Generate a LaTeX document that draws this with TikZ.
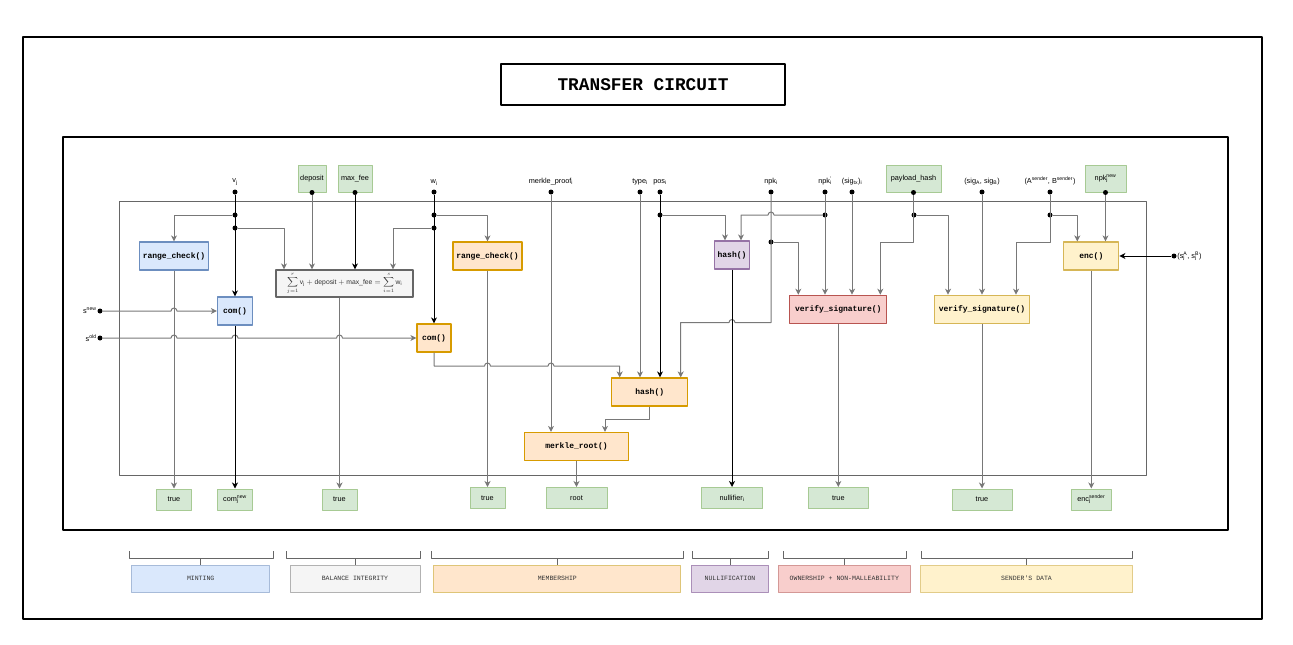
\documentclass[tikz,border=0pt]{standalone}
\usepackage{amsmath}
\usepackage{fontspec}
\setmainfont{Liberation Sans}
\setsansfont{Liberation Sans}
\setmonofont{Liberation Mono}
\usetikzlibrary{arrows.meta}
\usetikzlibrary{calc}
\usetikzlibrary{positioning}

\definecolor{bluefill}{HTML}{DAE8FC}\definecolor{blueline}{HTML}{6C8EBF}
\definecolor{greyfill}{HTML}{F5F5F5}\definecolor{greyline}{HTML}{666666}
\definecolor{orangefill}{HTML}{FFE6CC}\definecolor{orangeline}{HTML}{D79B00}
\definecolor{purplefill}{HTML}{E1D5E7}\definecolor{purpleline}{HTML}{9673A6}
\definecolor{redfill}{HTML}{F8CECC}\definecolor{redline}{HTML}{B85450}
\definecolor{yellowfill}{HTML}{FFF2CC}\definecolor{yellowline}{HTML}{D6B656}
\definecolor{greenfill}{HTML}{D5E8D4}\definecolor{greenline}{HTML}{82B366}
\definecolor{wiregray}{HTML}{787878}

\newcommand\subsup[2]{\rlap{\textsubscript{#1}}\textsuperscript{#2}}
\newcommand\lblsize{\fontsize{7.3}{8.5}\selectfont}

\tikzset{
  fnbox/.style={draw, line width=1.2pt, font=\ttfamily\bfseries\fontsize{8}{9}\selectfont,
    minimum height=28pt, inner sep=0pt},
  fnblue/.style={fnbox, draw=blueline, fill=bluefill},
  fnorange/.style={fnbox, draw=orangeline, fill=orangefill},
  fnpurple/.style={fnbox, draw=purpleline, fill=purplefill},
  fnred/.style={fnbox, draw=redline, fill=redfill},
  fnyellow/.style={fnbox, draw=yellowline, fill=yellowfill},
  sumbox/.style={draw=greyline, fill=greyfill, line width=1.2pt, text=black!80,
    minimum height=27pt, minimum width=137pt, inner sep=0pt, font=\fontsize{6.8}{7.5}\selectfont},
  inbox/.style={draw=greenline!70!white, fill=greenfill, line width=1pt,
    minimum height=27pt, inner sep=0pt, font=\lblsize},
  outbox/.style={draw=greenline!70!white, fill=greenfill, line width=1pt,
    minimum height=21pt, inner sep=0pt, font=\lblsize},
  lbl/.style={font=\lblsize, inner sep=0.5pt},
  toplbl/.style={lbl, yshift=3.5pt},
  dot/.style={circle, fill=black, inner sep=0pt, minimum size=5pt, label distance=5pt},
  wire/.style={draw=wiregray, line width=1pt, -{Stealth[length=6pt,width=6pt,inset=1.8pt]}},
  bwire/.style={wire, draw=black},
  brk/.style={draw=greyline, line width=1pt},
  catbox/.style={line width=1pt, minimum height=27pt, inner sep=0pt, text=black!80,
    font=\ttfamily\fontsize{6.5}{8}\selectfont},
}

\begin{document}
\begin{tikzpicture}[x=1pt, y=-1pt, line join=round]
  \useasboundingbox (0,0) rectangle (1293,645);
  % frames
  \draw[line width=1.2pt] (23,37) rectangle (1262,619);
  \draw[line width=1.2pt] (63,137) rectangle (1228,530);
  \draw[greyline, line width=1pt] (119,201) rectangle (1146,475);
  \node[draw, line width=2pt, minimum width=284pt, minimum height=41pt,
    font=\ttfamily\bfseries\fontsize{17.8}{20}\selectfont] (title) at (643,84.5) {TRANSFER CIRCUIT};

  % inputs on top
  \node[dot, label={[toplbl]90:v\textsubscript{j}}] (vj) at (235,192) {};
  \node[inbox, minimum width=28pt] (dep) at (312,178.5) {deposit};
  \node[dot] (depd) at (dep.south) {};
  \node[inbox, minimum width=34pt] (mfee) at (355,178.5) {max\_fee};
  \node[dot] (mfeed) at (mfee.south) {};
  \node[dot, label={[toplbl]90:w\textsubscript{i}}] (wi) at (434,192) {};
  \node[dot, label={[toplbl]90:merkle\_proof\textsubscript{i}}] (mp) at (551,192) {};
  \node[dot, label={[toplbl]90:type\textsubscript{i}}] (ty) at (640,192) {};
  \node[dot, label={[toplbl]90:pos\textsubscript{i}}] (pos) at (660,192) {};
  \node[dot, label={[toplbl]90:npk\textsubscript{i}}] (npk) at (771,192) {};
  \node[dot, label={[toplbl]90:npk\rlap{\textsuperscript{\textquotesingle}}\textsubscript{i}}] (npkp) at (825,192) {};
  \node[dot, label={[toplbl]90:(sig\textsubscript{tx})\textsubscript{i}}] (stx) at (852,192) {};
  \node[inbox, minimum width=55pt] (phash) at (913.5,178.5) {payload\_hash};
  \node[dot] (phd) at (phash.south) {};
  \node[dot, label={[toplbl]90:(sig\textsubscript{A}, sig\textsubscript{B})}] (sigab) at (982,192) {};
  \node[dot, label={[toplbl]90:(A\textsuperscript{sender}, B\textsuperscript{sender})}] (absnd) at (1050,192) {};
  \node[inbox, minimum width=41pt] (npknew) at (1105.5,178.5) {npk\subsup{j}{new}};
  \node[dot] (npknewd) at (npknew.south) {};
  \node[dot, label={[lbl]0:(s\subsup{j}{A}, s\subsup{j}{B})}] (sjab) at (1174,256) {};
  \node[dot, label={[lbl]180:s\textsuperscript{new}}] (snew) at (100,311) {};
  \node[dot, label={[lbl]180:s\textsuperscript{old}}] (sold) at (100,338) {};

  % branch points
  \node[dot] (vj1) at (235,215) {};
  \node[dot] (vj2) at (235,228) {};
  \node[dot] (wi1) at (434,215) {};
  \node[dot] (wi2) at (434,228) {};
  \node[dot] (pos1) at (660,215) {};
  \node[dot] (npk1) at (771,242) {};
  \node[dot] (npkp1) at (825,215) {};
  \node[dot] (ph1) at (914,215) {};
  \node[dot] (ab1) at (1050,215) {};
  \coordinate (npkc) at (771,322.5);
  \coordinate (cmturn) at (434,366);

  % circuit blocks
  \node[fnblue, minimum width=69pt] (rcv) at (174,256) {range\_check()};
  \node[fnblue, minimum width=35pt] (comv) at (235,311) {com()};
  \node[sumbox] (sum) at (344.5,283.5)
    {$\displaystyle\sum_{j=1}^{r}\text{v}_{\text{j}}+\text{deposit}+\text{max\_fee}=\sum_{i=1}^{s}\text{w}_{\text{i}}$};
  \node[fnorange, minimum width=69pt] (rcw) at (487.5,256) {range\_check()};
  \node[fnorange, minimum width=34pt] (comw) at (434,338) {com()};
  \node[fnpurple, minimum width=35pt] (hnul) at (732,255) {hash()};
  \node[fnred, minimum width=97pt] (vsig) at (838.3,309.3) {verify\_signature()};
  \node[fnyellow, minimum width=95pt] (vsnd) at (982,309.3) {verify\_signature()};
  \node[fnyellow, minimum width=55pt] (enc) at (1091.3,256) {enc()};
  \node[fnorange, minimum width=76pt] (hcm) at (649.7,392) {hash()};
  \node[fnorange, minimum width=104pt] (mroot) at (576.5,446.5) {merkle\_root()};

  % outputs
  \node[outbox, minimum width=35pt] (o1) at (174,499.5) {true};
  \node[outbox, minimum width=35pt] (o2) at (235,499.5) {com\subsup{j}{new}};
  \node[outbox, minimum width=35pt] (o3) at (339.5,499.5) {true};
  \node[outbox, minimum width=35pt] (o4) at (487.5,498) {true};
  \node[outbox, minimum width=61pt] (o5) at (576.5,498) {root};
  \node[outbox, minimum width=61pt] (o6) at (732,498) {nullifier\textsubscript{i}};
  \node[outbox, minimum width=60pt] (o7) at (838.3,498) {true};
  \node[outbox, minimum width=60pt] (o8) at (982,499.5) {true};
  \node[outbox, minimum width=40pt] (o9) at (1091.3,499.5) {enc\subsup{j}{sender}};

  % wires: minting and balance
  \draw[bwire] (vj) -- (comv);
  \draw[wire] (vj1) -| (rcv);
  \draw[wire] (vj2) -| ([xshift=-60.5pt]sum.north);
  \draw[wire] (depd) -- (depd |- sum.north);
  \draw[bwire] (mfeed) -- (mfeed |- sum.north);
  \draw[bwire] (wi) -- (comw);
  \draw[wire] (wi1) -| (rcw);
  \draw[wire] (wi2) -| ([xshift=48.5pt]sum.north);
  \draw[wire] (snew) -- ($(snew -| rcv)+(-3,0)$) arc[start angle=180, end angle=0, radius=3pt] -- (comv);
  \draw[wire] (sold) -- ($(sold -| rcv)+(-3,0)$) arc[start angle=180, end angle=0, radius=3pt]
    -- ($(sold -| comv)+(-3,0)$) arc[start angle=180, end angle=0, radius=3pt]
    -- ($(sold -| o3)+(-3,0)$) arc[start angle=180, end angle=0, radius=3pt] -- (comw);
  \draw[wire] (rcv) -- (rcv |- o1.north);
  \draw[bwire] (comv) -- (comv |- o2.north);
  \draw[wire] (o3.north |- sum.south) -- (o3);
  \draw[wire] (rcw) -- (rcw |- o4.north);

  % wires: membership
  \draw[wire] (mp) -- (mp |- mroot.north);
  \draw[wire] (ty) -- (ty |- hcm.north);
  \draw[bwire] (pos) -- (pos |- hcm.north);
  \draw[wire] (comw) -- (cmturn) -- ($(cmturn -| rcw)+(-3,0)$) arc[start angle=180, end angle=0, radius=3pt]
    -- ($(cmturn -| mp)+(-3,0)$) arc[start angle=180, end angle=0, radius=3pt]
    -- ([xshift=-30pt]hcm.north |- cmturn) -- ([xshift=-30pt]hcm.north);
  \draw[wire] (npk) -- (npkc) -- ($(npkc -| hnul)+(3,0)$) arc[start angle=0, end angle=180, radius=3pt]
    -- ([xshift=31pt]hcm.north |- npkc) -- ([xshift=31pt]hcm.north);
  \draw[wire] (hcm.south) -- ++(0,13) -| ([xshift=28.5pt]mroot.north);
  \draw[wire] (mroot) -- (mroot |- o5.north);

  % wires: nullification
  \draw[wire] (pos1) -| ([xshift=-7pt]hnul.north);
  \draw[wire] (npkp1) -- ($(npkp1 -| npk)+(3,0)$) arc[start angle=0, end angle=180, radius=3pt]
    -- ([xshift=9pt]hnul.north |- npkp1) -- ([xshift=9pt]hnul.north);
  \draw[bwire] (hnul) -- (hnul |- o6.north);

  % wires: ownership
  \draw[wire] (npk1) -| ([xshift=-40pt]vsig.north);
  \draw[wire] (npkp) -- (npkp |- vsig.north);
  \draw[wire] (stx) -- (stx |- vsig.north);
  \draw[wire] (phd) -- (phd |- npk1) -| ([xshift=42pt]vsig.north);
  \draw[wire] (vsig) -- (vsig |- o7.north);

  % wires: sender's data
  \draw[wire] (ph1) -| ([xshift=-34pt]vsnd.north);
  \draw[wire] (sigab) -- (sigab |- vsnd.north);
  \draw[wire] (absnd) -- (absnd |- npk1) -| ([xshift=34pt]vsnd.north);
  \draw[wire] (ab1) -| ([xshift=-14pt]enc.north);
  \draw[wire] (npknewd) -- (npknewd |- enc.north);
  \draw[bwire] (sjab) -- (enc);
  \draw[wire] (vsnd) -- (vsnd |- o8.north);
  \draw[wire] (enc) -- (enc |- o9.north);

  % categories
  \node[catbox, draw=blueline!60!white, fill=bluefill, minimum width=137.5pt] (catmint) at (200.7,578.5) {MINTING};
  \node[catbox, draw=greyline!50!white, fill=greyfill, minimum width=130pt] (catbal) at (355,578.5) {BALANCE INTEGRITY};
  \node[catbox, draw=yellowline!80!white, fill=orangefill, minimum width=247pt] (catmem) at (557.3,578.5) {MEMBERSHIP};
  \node[catbox, draw=purpleline!80!white, fill=purplefill, minimum width=77pt] (catnul) at (730,578.5) {NULLIFICATION};
  \node[catbox, draw=redline!60!white, fill=redfill, minimum width=132pt] (catown) at (844.3,578.5) {OWNERSHIP + NON-MALLEABILITY};
  \node[catbox, draw=yellowline!70!white, fill=yellowfill, minimum width=212pt] (catsnd) at (1026.5,578.5) {SENDER'S DATA};
  \draw[brk] (129,551) |- (273,558) -- (273,551);
  \draw[brk] (catmint.north) -- ++(0,-7);
  \draw[brk] (286,551) |- (420,558) -- (420,551);
  \draw[brk] (catbal.north) -- ++(0,-7);
  \draw[brk] (431,551) |- (683,558) -- (683,551);
  \draw[brk] (catmem.north) -- ++(0,-7);
  \draw[brk] (692,551) |- (768,558) -- (768,551);
  \draw[brk] (catnul.north) -- ++(0,-7);
  \draw[brk] (783,551) |- (906,558) -- (906,551);
  \draw[brk] (catown.north) -- ++(0,-7);
  \draw[brk] (921,551) |- (1132,558) -- (1132,551);
  \draw[brk] (catsnd.north) -- ++(0,-7);
\end{tikzpicture}
\end{document}
